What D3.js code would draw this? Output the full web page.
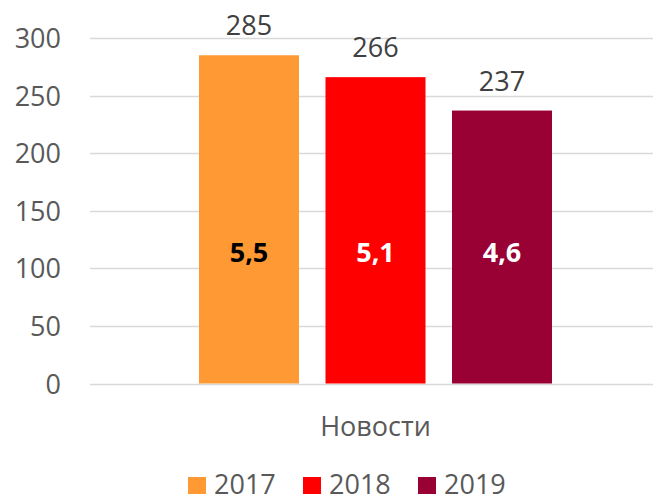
<!DOCTYPE html>
<html>
<head>
<meta charset="utf-8">
<script src="https://cdn.jsdelivr.net/npm/d3@7"></script>
<style>
body{margin:0;background:#fff;overflow:hidden;}
text{font-family:"Open Sans",sans-serif;}
</style>
</head>
<body>
<svg id="chart" width="653" height="500"></svg>
<script>

// ===============================
// DATA
// ===============================

const categories=["Новости"];

const years=["2017","2018","2019"];

const counts=[285,266,237];

const shares=["5,5","5,1","4,6"];

const colors=["#FF9933","#FF0000","#990033"];

const shareColors=["#000000","#FFFFFF","#FFFFFF"];

const yTicks=[0,50,100,150,200,250,300];

// ===============================
// SCALES
// ===============================

const svg=d3.select("#chart");

const plotLeft=90, plotRight=661;

const x0=d3.scaleBand()
    .domain(categories)
    .range([plotLeft,plotRight])
    .paddingInner(0)
    .paddingOuter(0.3088);

const x1=d3.scaleBand()
    .domain(years)
    .range([0,x0.bandwidth()])
    .paddingInner(0.2095);

const y=d3.scaleLinear()
    .domain([0,300])
    .range([383.5,38]);

// -------- GRID + TICKS --------

svg.append("g")
    .selectAll("line")
    .data(yTicks)
    .enter()
    .append("line")
    .attr("x1",plotLeft)
    .attr("x2",plotRight)
    .attr("y1",d=>Math.round(y(d))+0.5)
    .attr("y2",d=>Math.round(y(d))+0.5)
    .attr("stroke","#D9D9D9")
    .attr("stroke-width",1.5);

svg.append("g")
    .selectAll("text")
    .data(yTicks)
    .enter()
    .append("text")
    .attr("x",61)
    .attr("y",d=>y(d)+10)
    .attr("text-anchor","end")
    .attr("font-size",27)
    .attr("fill","#595959")
    .text(d=>d);

// -------- BARS --------

const group=svg.append("g")
    .attr("transform",`translate(${x0(categories[0])},0)`);

group.selectAll("rect")
    .data(counts)
    .enter()
    .append("rect")
    .attr("x",(d,i)=>x1(years[i]))
    .attr("width",x1.bandwidth())
    .attr("y",d=>y(d))
    .attr("height",d=>y(0)-y(d))
    .attr("fill",(d,i)=>colors[i]);

group.selectAll(".val")
    .data(counts)
    .enter()
    .append("text")
    .attr("class","val")
    .attr("x",(d,i)=>x1(years[i])+x1.bandwidth()/2)
    .attr("y",d=>y(d)-20)
    .attr("text-anchor","middle")
    .attr("font-size",27)
    .attr("fill","#404040")
    .text(d=>d);

group.selectAll(".share")
    .data(shares)
    .enter()
    .append("text")
    .attr("class","share")
    .attr("x",(d,i)=>x1(years[i])+x1.bandwidth()/2)
    .attr("y",262)
    .attr("text-anchor","middle")
    .attr("font-size",27)
    .attr("font-weight","bold")
    .attr("fill",(d,i)=>shareColors[i])
    .text(d=>d);

// -------- CATEGORY LABEL --------

svg.append("text")
    .attr("x",x0(categories[0])+x0.bandwidth()/2)
    .attr("y",436)
    .attr("text-anchor","middle")
    .attr("font-size",27)
    .attr("fill","#595959")
    .text(categories[0]);

// -------- LEGEND --------

const legendX=[188,303,418];

const legend=svg.append("g")
    .selectAll("g")
    .data(years)
    .enter()
    .append("g")
    .attr("transform",(d,i)=>`translate(${legendX[i]},477)`);

legend.append("rect")
    .attr("width",18)
    .attr("height",17)
    .attr("fill",(d,i)=>colors[i]);

legend.append("text")
    .attr("x",26)
    .attr("y",17)
    .attr("font-size",27)
    .attr("fill","#595959")
    .text(d=>d);

</script>
</body>
</html>
